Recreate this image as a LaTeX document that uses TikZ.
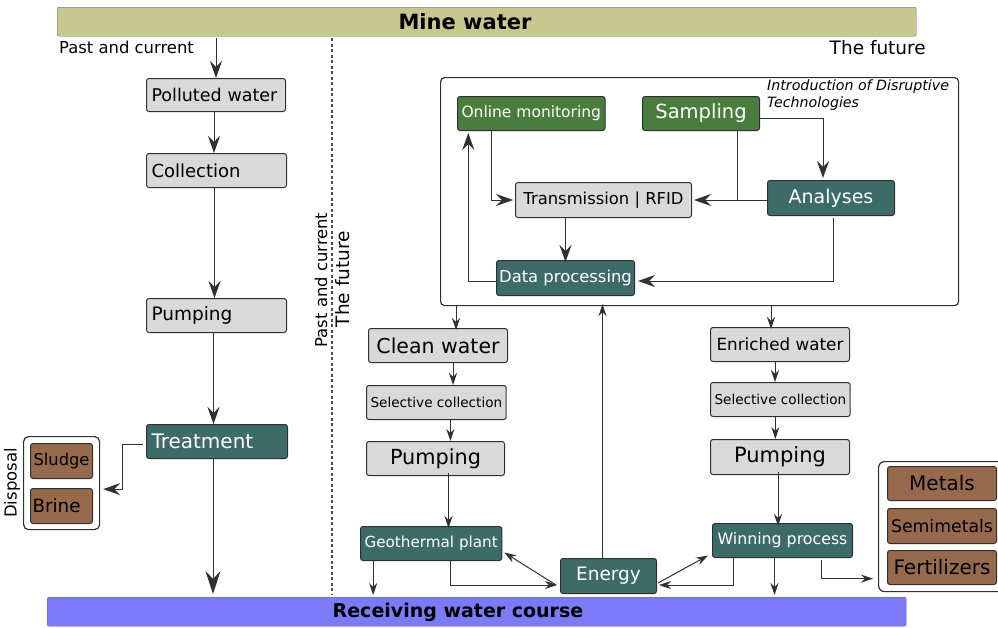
\documentclass[tikz,border=0pt]{standalone}
\usepackage{fontspec}
\setmainfont{DejaVu Sans}
\usetikzlibrary{arrows.meta}
\newcommand\fsz[1]{\fontsize{#1}{#1}\selectfont}
\definecolor{tealc}{HTML}{3D6B68}
\definecolor{greenc}{HTML}{4A7D3D}
\definecolor{brownc}{HTML}{976A4D}
\definecolor{grayc}{HTML}{D9D9D9}
\definecolor{olivec}{HTML}{C8C790}
\definecolor{bluec}{HTML}{7B7BFA}
\definecolor{linec}{HTML}{303030}
\begin{document}
\begin{tikzpicture}[x=1pt,y=-1pt,
  bx/.style={draw=linec, line width=1pt, rounded corners=2.5pt, anchor=north west, inner xsep=4pt, inner ysep=0pt},
  gbx/.style={bx, fill=grayc, text=black},
  tbx/.style={bx, fill=tealc, text=white},
  grn/.style={bx, fill=greenc, text=white},
  brn/.style={bx, fill=brownc, text=black},
  grp/.style={draw=linec, line width=1.2pt, fill=white, anchor=north west, inner sep=0pt},
  lft/.style={inner xsep=5pt, text width=#1, align=left},
  sz/.style 2 args={minimum width=#1pt, minimum height=#2pt},
  conn/.style={draw=linec, line width=1pt},
  arr/.style={conn, -{Stealth[length=12pt,width=8pt,inset=4pt]}},
  marr/.style={conn, -{Stealth[length=17pt,width=12pt,inset=6pt]}},
  barr/.style={conn, -{Stealth[length=23pt,width=15pt,inset=8pt]}},
  plain/.style={inner sep=0pt}
]
\useasboundingbox (0,0) rectangle (998,627);

% bars
\node[draw=black!60, fill=olivec, rounded corners=2pt, anchor=north west, sz={859}{29}, inner sep=0pt] (mine) at (57,7) {};
\node[plain, font=\bfseries\fsz{21}] (minetxt) at (465,22) {Mine water};
\node[draw=black!60, fill=bluec, rounded corners=2pt, anchor=north west, sz={859}{29}, inner sep=0pt] (recv) at (47,597) {};
\node[plain, font=\bfseries\fsz{19}] (recvtxt) at (458,612) {Receiving water course};

% labels
\node[plain, anchor=base west, font=\fsz{16.4}] (pastlbl) at (59,53) {Past and current};
\node[plain, anchor=base east, font=\fsz{18.5}] (futlbl) at (926,54) {The future};
\node[plain, rotate=90, font=\fsz{16.4}] (midpast) at (321,280) {Past and current};
\node[plain, rotate=90, font=\fsz{18.5}] (midfut) at (343,279) {The future};

% dashed divider
\coordinate (dtop) at (332,38);
\coordinate (dbot) at (332,595);
\draw[draw=black!70, line width=1.1pt, dash pattern=on 3pt off 2.5pt] (dtop) -- (dbot);

% left column
\node[gbx, sz={139}{33}, lft=129pt, font=\fsz{17.5}] (poll) at (146,78) {Polluted water};
\node[gbx, sz={140}{34}, lft=130pt, font=\fsz{18}] (coll) at (146,153) {Collection};
\node[gbx, sz={140}{34}, lft=130pt, font=\fsz{18.5}] (pump1) at (146,298) {Pumping};
\node[tbx, sz={141}{34}, lft=131pt, font=\fsz{20}] (treat) at (146,424) {Treatment};

\node[grp, rounded corners=5pt, sz={76}{93}] (disp) at (23,436) {};
\node[brn, sz={62}{35}, inner xsep=2pt, font=\fsz{16.3}] (sludge) at (30,443) {Sludge};
\node[brn, sz={62}{35}, inner xsep=2pt, text width=58pt, align=left, font=\fsz{18.3}] (brine) at (30,488) {Brine};
\node[plain, rotate=90, font=\fsz{16.5}] (displbl) at (12,483) {Disposal};

% big box
\node[grp, rounded corners=4pt, sz={518}{228}] (big) at (440,77) {};
\node[plain, anchor=north west, align=left, font=\itshape\fontsize{14.2}{17}\selectfont] (intro) at (767,80) {Introduction of Disruptive\\Technologies};
\node[grn, sz={145}{34}, font=\fsz{15.5}] (online) at (457,96) {Online monitoring};
\node[grn, sz={117}{34}, font=\fsz{19.5}] (samp) at (642,96) {Sampling};
\node[gbx, sz={176}{35}, font=\fsz{16.4}] (trans) at (515,182) {Transmission | RFID};
\node[tbx, sz={127}{35}, font=\fsz{19}] (anal) at (767,180) {Analyses};
\node[tbx, sz={138}{35}, inner xsep=2pt, font=\fsz{16.4}] (datap) at (496,260) {Data processing};

% middle column
\node[gbx, sz={139}{34}, font=\fsz{20.5}] (clean) at (368,328) {Clean water};
\node[gbx, sz={139}{34}, font=\fsz{13.6}] (sel1) at (366,385) {Selective collection};
\node[gbx, sz={138}{34}, font=\fsz{20.8}] (pump2) at (366,441) {Pumping};
\node[tbx, sz={141}{34}, font=\fsz{15.2}] (geo) at (360,526) {Geothermal plant};
\node[tbx, sz={96}{35}, font=\fsz{18.5}] (energy) at (560,558) {Energy};

% right column
\node[gbx, sz={139}{34}, font=\fsz{16.8}] (enr) at (710,327) {Enriched water};
\node[gbx, sz={139}{34}, font=\fsz{13.6}] (sel2) at (710,382) {Selective collection};
\node[gbx, sz={139}{35}, font=\fsz{21}] (pump3) at (710,439) {Pumping};
\node[tbx, sz={140}{34}, font=\fsz{15.8}] (win) at (712,523) {Winning process};

\node[grp, rounded corners=6pt, sz={130}{130}] (prod) at (878,461) {};
\node[brn, sz={109}{34}, font=\fsz{20}] (metals) at (887,466) {Metals};
\node[brn, sz={109}{35}, inner xsep=1pt, font=\fsz{17.3}] (semi) at (887,508) {Semimetals};
\node[brn, sz={109}{34}, inner xsep=1pt, font=\fsz{20}] (fert) at (887,550) {Fertilizers};

% left column connectors
\draw[marr] ([yshift=-2pt]poll.north |- mine.south) -- (poll.north);
\draw[marr] ([xshift=-2pt]poll.south) -- ([xshift=-2pt]poll.south |- coll.north);
\draw[marr] ([xshift=-2pt]coll.south) -- ([xshift=-2pt]coll.south |- pump1.north);
\draw[marr] ([xshift=-3pt]pump1.south) -- ([xshift=-3pt]pump1.south |- treat.north);
\draw[barr] ([xshift=-4pt]treat.south) -- ([xshift=-4pt, yshift=3pt]treat.south |- recv.north);
\draw[marr] ([xshift=-3pt, yshift=-3pt]treat.west) -- ++(-21,0) |- ([xshift=3pt, yshift=-6pt]disp.east);

% big box connectors
\draw[marr] ([xshift=-40pt]online.south) |- ([xshift=-2pt]trans.west);
\draw[marr] ([yshift=-5pt]samp.east) -| ([xshift=-8pt, yshift=2pt]anal.north);
\draw[conn] ([xshift=36pt]samp.south) -- ([xshift=36pt]samp.south |- trans.east);
\draw[marr] (anal.west |- trans.east) -- ([xshift=2pt]trans.east);
\draw[marr] (datap.north |- trans.south) -- ([yshift=-2pt]datap.north);
\draw[marr] ([xshift=2pt, yshift=-2pt]anal.south) |- ([xshift=3pt, yshift=-3pt]datap.east);
\draw[marr] ([yshift=-3pt]datap.west) -| ([xshift=-63pt, yshift=-2pt]online.south);

% below box
\draw[arr] ([xshift=18pt]clean.north |- big.south) -- ([xshift=18pt, yshift=-2pt]clean.north);
\draw[arr] ([xshift=-9pt]enr.north |- big.south) -- ([xshift=-9pt, yshift=-2pt]enr.north);

% middle column connectors
\draw[arr] ([xshift=15pt]clean.south) -- ([xshift=15pt]clean.south |- sel1.north);
\draw[arr] ([xshift=14pt]sel1.south) -- ([xshift=14pt]sel1.south |- pump2.north);
\draw[arr] ([xshift=13pt, yshift=3pt]pump2.south) -- ([xshift=13pt, yshift=-2pt]pump2.south |- geo.north);
\draw[arr] ([xshift=-58pt]geo.south) -- ([xshift=-58pt, yshift=2pt]geo.south |- recv.north);
\draw[arr] ([xshift=19pt]geo.south) |- ([xshift=-3pt, yshift=-9pt]energy.west);
\draw[arr] ([xshift=-4pt, yshift=-9pt]energy.west) -- ([xshift=2pt, yshift=-9pt]geo.east);
\draw[arr] ([xshift=-6pt]energy.north) -- ([xshift=-6pt, yshift=2pt]energy.north |- big.south);
\draw[arr] ([xshift=1pt, yshift=-7pt]energy.east) -- ([xshift=-4pt, yshift=-15pt]win.west);

% right column connectors
\draw[arr] ([xshift=-5pt]enr.south) -- ([xshift=-5pt]enr.south |- sel2.north);
\draw[arr] ([xshift=-5pt]sel2.south) -- ([xshift=-5pt]sel2.south |- pump3.north);
\draw[arr] ([xshift=-2pt, yshift=3pt]pump3.south) -- ([xshift=-2pt, yshift=-3pt]pump3.south |- win.north);
\draw[arr] ([xshift=-49pt]win.south) |- ([xshift=2pt, yshift=-9pt]energy.east);
\draw[arr] ([xshift=-8pt]win.south) -- ([xshift=-8pt, yshift=2pt]win.south |- recv.north);
\draw[arr] ([xshift=39pt, yshift=-2pt]win.south) |- ([xshift=-5pt, yshift=-52pt]prod.west);
\end{tikzpicture}
\end{document}
